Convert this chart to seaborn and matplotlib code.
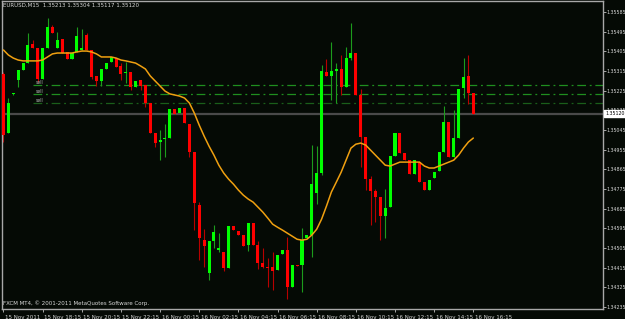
import numpy as np
import pandas as pd
import matplotlib
matplotlib.use("Agg")
import matplotlib.pyplot as plt
import matplotlib.transforms as mtransforms
import seaborn as sns

# ---------------- data ----------------
header_text = "EURUSD,M15  1.35213 1.35304 1.35117 1.35120"
footer_text = "FXCM MT4, \u00a9 2001-2011 MetaQuotes Software Corp."

opens = [1.35301, 1.35031, 1.35210, 1.35274, 1.35319, 1.35351, 1.35438, 1.35420, 1.35278, 1.35420,
         1.35516, 1.35420, 1.35461, 1.35402, 1.35370, 1.35402, 1.35411, 1.35480, 1.35411, 1.35292,
         1.35269, 1.35324, 1.35356, 1.35374, 1.35338, 1.35306, 1.35310, 1.35242, 1.35274, 1.35251,
         1.35168, 1.35031, 1.34990, 1.35003, 1.35008, 1.35141, 1.35122, 1.35145, 1.35072, 1.34944,
         1.34701, 1.34541, 1.34389, 1.34536, 1.34495, 1.34486, 1.34413, 1.34605, 1.34582, 1.34564,
         1.34518, 1.34619, 1.34518, 1.34435, 1.34417, 1.34417, 1.34403, 1.34477, 1.34495, 1.34326,
         1.34426, 1.34426, 1.34550, 1.34564, 1.34756, 1.34848, 1.35310, 1.35292, 1.35315, 1.35324,
         1.35242, 1.35374, 1.35397, 1.35205, 1.35013, 1.34820, 1.34765, 1.34737, 1.34651, 1.34692,
         1.34926, 1.35031, 1.34939, 1.34907, 1.34843, 1.34898, 1.34806, 1.34770, 1.34825, 1.34857,
         1.34944, 1.35081, 1.34921, 1.35008, 1.35237, 1.35292, 1.35213]
highs = [1.35310, 1.35191, 1.35214, 1.35319, 1.35351, 1.35489, 1.35457, 1.35420, 1.35420, 1.35558,
         1.35526, 1.35493, 1.35461, 1.35402, 1.35397, 1.35516, 1.35507, 1.35489, 1.35411, 1.35292,
         1.35324, 1.35351, 1.35379, 1.35374, 1.35351, 1.35356, 1.35310, 1.35269, 1.35274, 1.35251,
         1.35168, 1.35031, 1.35045, 1.35072, 1.35141, 1.35141, 1.35145, 1.35145, 1.35072, 1.34944,
         1.34715, 1.34591, 1.34536, 1.34610, 1.34573, 1.34486, 1.34605, 1.34605, 1.34582, 1.34564,
         1.34619, 1.34619, 1.34536, 1.34504, 1.34458, 1.34486, 1.34472, 1.34495, 1.34555, 1.34426,
         1.34426, 1.34596, 1.34564, 1.34976, 1.34971, 1.35342, 1.35370, 1.35448, 1.35351, 1.35388,
         1.35425, 1.35535, 1.35397, 1.35232, 1.35013, 1.34834, 1.34774, 1.34737, 1.34774, 1.34926,
         1.35031, 1.35031, 1.34939, 1.34907, 1.34907, 1.34898, 1.34806, 1.34816, 1.34852, 1.34944,
         1.35155, 1.35081, 1.35136, 1.35232, 1.35374, 1.35388, 1.35213]
lows = [1.34990, 1.35031, 1.35205, 1.35242, 1.35319, 1.35351, 1.35420, 1.35264, 1.35278, 1.35420,
        1.35489, 1.35420, 1.35397, 1.35370, 1.35370, 1.35402, 1.35411, 1.35411, 1.35278, 1.35246,
        1.35246, 1.35324, 1.35356, 1.35333, 1.35274, 1.35260, 1.35228, 1.35242, 1.35228, 1.35150,
        1.35031, 1.34967, 1.34907, 1.34921, 1.35008, 1.35118, 1.35122, 1.35077, 1.34921, 1.34587,
        1.34449, 1.34417, 1.34358, 1.34504, 1.34486, 1.34399, 1.34413, 1.34587, 1.34564, 1.34513,
        1.34490, 1.34518, 1.34408, 1.34413, 1.34326, 1.34312, 1.34403, 1.34477, 1.34271, 1.34326,
        1.34422, 1.34303, 1.34550, 1.34463, 1.34706, 1.34839, 1.35292, 1.35182, 1.35168, 1.35205,
        1.35242, 1.35365, 1.35205, 1.34875, 1.34770, 1.34610, 1.34623, 1.34541, 1.34550, 1.34692,
        1.34926, 1.34939, 1.34907, 1.34843, 1.34843, 1.34806, 1.34770, 1.34770, 1.34825, 1.34857,
        1.34944, 1.34921, 1.34921, 1.35008, 1.35191, 1.35164, 1.35117]
closes = [1.35022, 1.35168, 1.35214, 1.35319, 1.35351, 1.35434, 1.35420, 1.35278, 1.35420, 1.35516,
          1.35489, 1.35457, 1.35397, 1.35370, 1.35397, 1.35475, 1.35420, 1.35411, 1.35287, 1.35269,
          1.35324, 1.35351, 1.35379, 1.35333, 1.35301, 1.35310, 1.35242, 1.35269, 1.35246, 1.35168,
          1.35031, 1.34985, 1.34999, 1.35008, 1.35141, 1.35118, 1.35145, 1.35077, 1.34944, 1.34710,
          1.34550, 1.34513, 1.34536, 1.34577, 1.34504, 1.34413, 1.34605, 1.34587, 1.34564, 1.34513,
          1.34619, 1.34518, 1.34435, 1.34417, 1.34413, 1.34399, 1.34472, 1.34495, 1.34326, 1.34426,
          1.34422, 1.34541, 1.34564, 1.34797, 1.34848, 1.35315, 1.35292, 1.35315, 1.35324, 1.35242,
          1.35374, 1.35397, 1.35205, 1.35013, 1.34820, 1.34765, 1.34737, 1.34651, 1.34687, 1.34926,
          1.35031, 1.34939, 1.34907, 1.34843, 1.34907, 1.34806, 1.34770, 1.34816, 1.34852, 1.34944,
          1.35081, 1.34921, 1.35008, 1.35232, 1.35287, 1.35214, 1.35120]
moving_avg = [1.35411, 1.35388, 1.35374, 1.35365, 1.35361, 1.35361, 1.35361, 1.35361, 1.35365, 1.35379,
              1.35393, 1.35397, 1.35397, 1.35397, 1.35397, 1.35402, 1.35406, 1.35406, 1.35402, 1.35393,
              1.35379, 1.35379, 1.35379, 1.35374, 1.35365, 1.35361, 1.35356, 1.35351, 1.35338, 1.35324,
              1.35292, 1.35269, 1.35246, 1.35223, 1.35210, 1.35205, 1.35200, 1.35191, 1.35168, 1.35122,
              1.35067, 1.35017, 1.34971, 1.34930, 1.34884, 1.34848, 1.34820, 1.34797, 1.34770, 1.34747,
              1.34729, 1.34715, 1.34692, 1.34669, 1.34642, 1.34614, 1.34600, 1.34587, 1.34573, 1.34559,
              1.34545, 1.34541, 1.34545, 1.34564, 1.34591, 1.34637, 1.34697, 1.34761, 1.34806, 1.34852,
              1.34907, 1.34962, 1.34980, 1.34985, 1.34976, 1.34953, 1.34930, 1.34907, 1.34884, 1.34880,
              1.34889, 1.34898, 1.34898, 1.34898, 1.34898, 1.34898, 1.34880, 1.34871, 1.34871, 1.34880,
              1.34889, 1.34898, 1.34907, 1.34930, 1.34962, 1.34990, 1.35008]

time_labels = ["15 Nov 2011", "15 Nov 18:15", "15 Nov 20:15", "15 Nov 22:15", "16 Nov 00:15",
               "16 Nov 02:15", "16 Nov 04:15", "16 Nov 06:15", "16 Nov 08:15", "16 Nov 10:15",
               "16 Nov 12:15", "16 Nov 14:15", "16 Nov 16:15"]
price_ticks = [1.35585, 1.35495, 1.35405, 1.35315, 1.35225, 1.35135, 1.35045, 1.34955,
               1.34865, 1.34775, 1.34685, 1.34595, 1.34505, 1.34415, 1.34325, 1.34235]
sell_levels = [1.35249, 1.35208, 1.35170]
sell_labels = ["sell", "sell", "sell"]
current_price = 1.35120

# ---------------- styling ----------------
BG = "#050a05"
BULL = "#00ff00"
BEAR = "#ff0000"
BULL_WICK = "#1c9c1c"
BEAR_WICK = "#b80000"
MA_COLOR = "#f0a010"
AXIS_GRAY = "#a8a8a8"
TEXT = "#d8d8d8"

sns.set_theme(style="dark")
plt.rcParams["font.family"] = ["DejaVu Sans"]
FS = 4.0
FS_Y = 3.4

df = pd.DataFrame({"bar": np.arange(len(opens)), "open": opens, "high": highs,
                   "low": lows, "close": closes, "ma": moving_avg})
df["bull"] = df["close"] >= df["open"]
df["body_lo"] = df[["open", "close"]].min(axis=1)
df["body_h"] = (df["close"] - df["open"]).abs().clip(lower=0.00003)

fig = plt.figure(figsize=(6.25, 3.19), dpi=100, facecolor=BG)
ax = fig.add_axes([2 / 625, 10 / 319, 601 / 625, 308 / 319])
ax.set_facecolor(BG)
ax.grid(False)

# current price line
ax.axhline(current_price, color="#4a4a4a", lw=1.6, zorder=1)

# sell order lines
sell_colors = ["#1f8f1f", "#1f8f1f", "#1a5e1a"]
blend = mtransforms.blended_transform_factory(ax.transAxes, ax.transData)
for lvl, lab, c in zip(sell_levels, sell_labels, sell_colors):
    ax.axhline(lvl, xmin=0.052, xmax=1.0, color=c, lw=0.9, ls=(0, (7, 3, 1.5, 3)), zorder=1.5)
    ax.text(0.056, lvl, lab, transform=blend, color="#b0b0b0", fontsize=3.3,
            va="bottom", ha="left")

# candles
wick_colors = np.where(df["bull"], BULL_WICK, BEAR_WICK)
ax.vlines(df["bar"], df["low"], df["high"], colors=wick_colors, lw=0.8, zorder=2)
body_colors = np.where(df["bull"], BULL, BEAR)
ax.bar(df["bar"], df["body_h"], bottom=df["body_lo"], width=0.62,
       color=body_colors, edgecolor="none", zorder=3)

# moving average via seaborn
sns.lineplot(data=df, x="bar", y="ma", ax=ax, color=MA_COLOR, lw=1.1, zorder=4)

ax.set_xlim(-0.3, 122.5)
ax.set_ylim(1.34226, 1.35635)
ax.set_xlabel("")
ax.set_ylabel("")

# axes / ticks
for side in ["left", "right", "top", "bottom"]:
    ax.spines[side].set_visible(True)
    ax.spines[side].set_color(AXIS_GRAY)
    ax.spines[side].set_linewidth(1.0)

ax.yaxis.tick_right()
ax.set_yticks(price_ticks)
ax.set_yticklabels([f"{v:.5f}" for v in price_ticks])
ax.tick_params(axis="y", direction="out", length=2.0, width=0.7, color=AXIS_GRAY,
               labelcolor=TEXT, labelsize=FS_Y, pad=0.8, right=True, left=False)

ax.set_xticks(np.arange(0, len(opens), 8))
ax.set_xticklabels(time_labels)
ax.tick_params(axis="x", direction="out", length=2.5, width=0.7, color=AXIS_GRAY,
               labelcolor=TEXT, labelsize=FS, pad=1.5, bottom=True)
offset = mtransforms.ScaledTranslation(1.5 / 100, 0, fig.dpi_scale_trans)
for lbl in ax.get_xticklabels():
    lbl.set_horizontalalignment("left")
    lbl.set_transform(lbl.get_transform() + offset)

# current price box on the price scale
ax.text(1.0035, current_price, f"{current_price:.5f}", transform=blend,
        fontsize=FS_Y, color="black", va="center", ha="left", clip_on=False, zorder=10,
        bbox=dict(facecolor="white", edgecolor="white", pad=0.6))

# header and footer texts
ax.text(0.002, 0.993, header_text, transform=ax.transAxes, color=TEXT, fontsize=FS,
        va="top", ha="left")
ax.text(0.002, 0.02, footer_text, transform=ax.transAxes, color=TEXT, fontsize=FS,
        va="center", ha="left")

fig.savefig("out.png", dpi=100, facecolor=BG)
